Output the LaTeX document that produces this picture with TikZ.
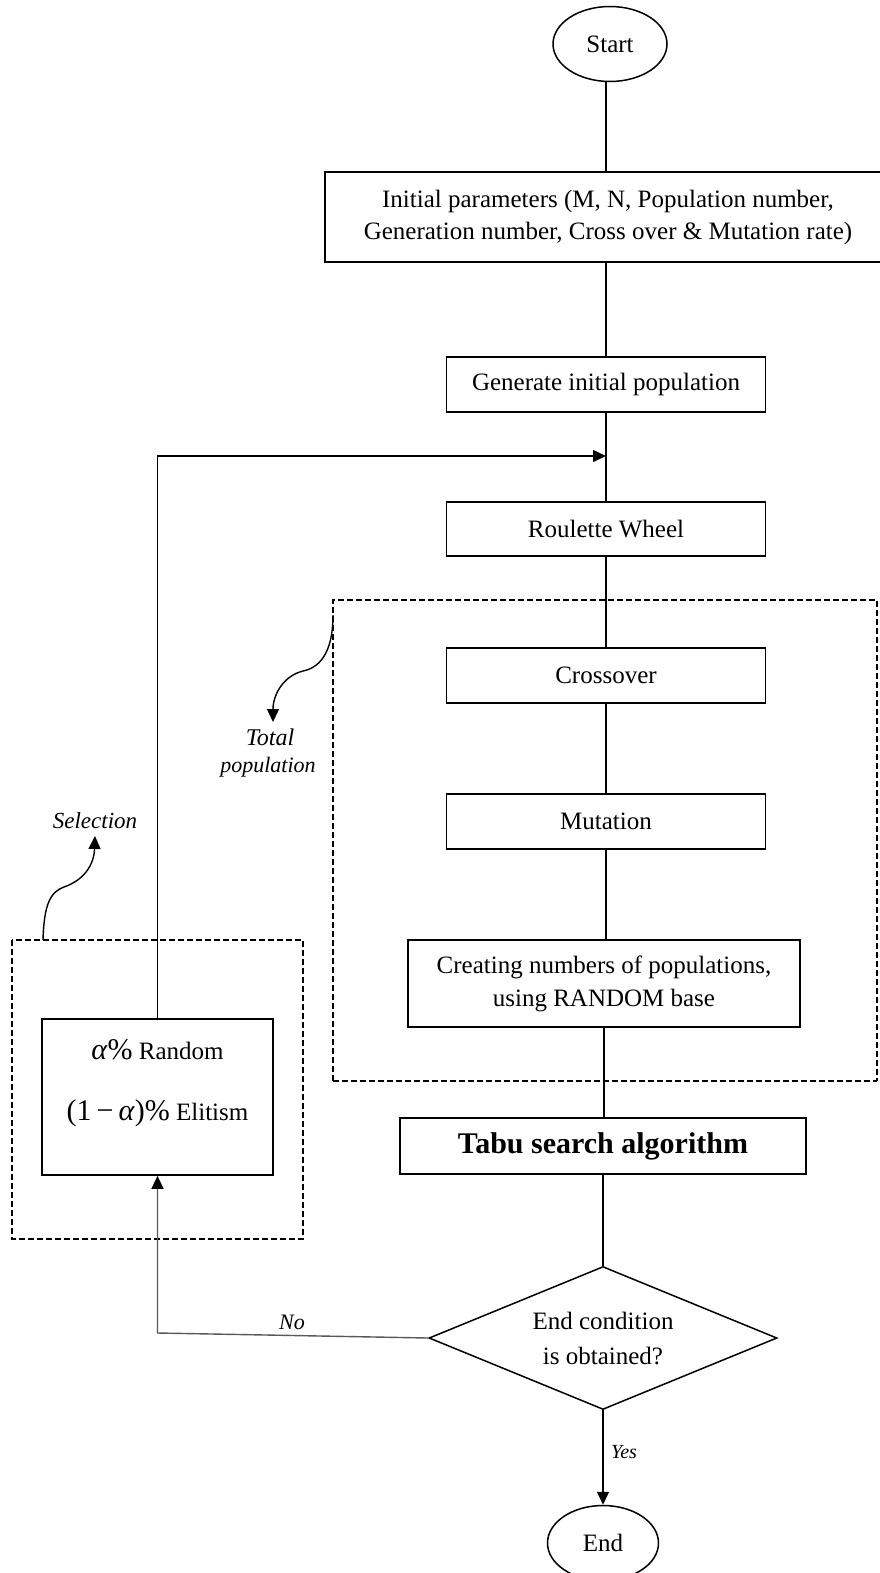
\documentclass[tikz,border=0pt]{standalone}
\usepackage{fontspec}
\setmainfont{Liberation Serif}
\usetikzlibrary{shapes.geometric,arrows.meta}
\begin{document}
\begin{tikzpicture}[x=1pt,y=-1pt,
  box/.style={draw,line width=1.7pt,rectangle,inner sep=0pt,align=center,font=\fontsize{25}{32}\selectfont},
  term/.style={draw,ellipse,line width=1.5pt,minimum width=113pt,minimum height=75pt,inner sep=0pt,font=\fontsize{25}{30}\selectfont},
  conn/.style={line width=1.4pt},
  arr/.style={conn,-{Triangle[length=13pt,width=12pt]}},
  dbox/.style={line width=1.5pt,dash pattern=on 6pt off 3pt},
  lbl/.style={font=\itshape\fontsize{20}{24}\selectfont,inner sep=0pt},
]
\useasboundingbox (0,0) rectangle (880,1573);
\fill[white] (0,0) rectangle (880,1573);

% dashed groups
\draw[dbox] (333,1081) -- (333,600) -- (877,600) -- (877,1081);
\draw[dbox,line width=2.5pt] (333,1081) -- (877,1081);
\draw[dbox] (12,940) rectangle (303,1239);

% nodes
\node[term,minimum width=114pt] (start) at (610,44) {Start};
\node[box,minimum width=566pt,minimum height=90pt] (init) at (608,217) {Initial parameters (M, N, Population number,\\Generation number, Cross over \& Mutation rate)};
\node[box,minimum width=319pt,minimum height=55pt] (gen) at (606,384.5) {Generate initial population};
\node[box,minimum width=319pt,minimum height=54pt] (roul) at (606,529) {Roulette Wheel};
\node[box,minimum width=319pt,minimum height=55pt] (cross) at (606,675.5) {Crossover};
\node[box,minimum width=319pt,minimum height=55pt] (mut) at (606,821.5) {Mutation};
\node[box,minimum width=392pt,minimum height=87pt,font=\fontsize{25}{33}\selectfont] (creat) at (604,983.5) {Creating numbers of populations,\\using RANDOM base};
\node[box,line width=2.2pt,minimum width=406pt,minimum height=56pt,font=\bfseries\fontsize{30}{36}\selectfont] (tabu) at (603,1146) {Tabu search algorithm};
\node[draw,diamond,line width=1.5pt,shape aspect=2.4,minimum width=348pt,minimum height=143pt,inner sep=0pt,align=center,font=\fontsize{25}{35}\selectfont] (dia) at (603,1338) {End condition\\is obtained?};
\node[term,minimum width=111pt] (end) at (603,1543) {End};
\node[box,minimum width=231pt,minimum height=156pt] (rand) at (157.5,1097) {};
\node[align=center,inner sep=0pt,font=\fontsize{25}{61}\selectfont] (randtxt) at (157.5,1083) {{\fontsize{30}{36}\selectfont\textit{α}\%} Random\\{\fontsize{30}{36}\selectfont(1\,−\,\textit{α})\%} Elitism};

% connectors
\coordinate (join) at (606,456);
\coordinate (nocorner) at (157.5,1333);
\coordinate (tpstart) at (333,615);
\coordinate (selstart) at (43,940);

\draw[conn] (start.south -| gen.north) -- (gen.north |- init.north);
\draw[conn] (gen.north |- init.south) -- (gen.north);
\draw[conn] (gen.south) -- (join) -- (roul.north);
\draw[conn] (roul.south) -- (cross.north);
\draw[conn] (cross.south) -- (mut.north);
\draw[conn] (mut.south) -- (mut.south |- creat.north);
\draw[conn] (creat.south) -- (creat.south |- tabu.north);
\draw[conn] (tabu.south) -- (dia.north);
\draw[arr] (rand.north) |- (join);
\draw[conn,color=black!65,-{Triangle[length=13pt,width=12pt,color=black]}] (dia.west) -- (nocorner) -- (rand.south);
\draw[arr] (dia.south) -- (end.north);

% curved annotation arrows
\draw[arr] (tpstart) .. controls (333,655) and (318,668) .. (303,671) .. controls (283,676) and (273,695) .. (273,722);
\draw[arr] (selstart) .. controls (44,905) and (50,892) .. (64,887) .. controls (84,880) and (94,865) .. (95,836);

% labels
\node[lbl,font=\itshape\fontsize{22}{26}\selectfont] (nolbl) at (292,1322) {No};
\node[lbl] (yeslbl) at (624,1452) {Yes};
\node[lbl,font=\itshape\fontsize{23}{27}\selectfont] (sellbl) at (95,821) {Selection};
\node[lbl,font=\itshape\fontsize{24}{28}\selectfont] (totlbl) at (270,737) {Total};
\node[lbl,font=\itshape\fontsize{22}{26}\selectfont] (poplbl) at (268,767) {population};
\end{tikzpicture}
\end{document}
